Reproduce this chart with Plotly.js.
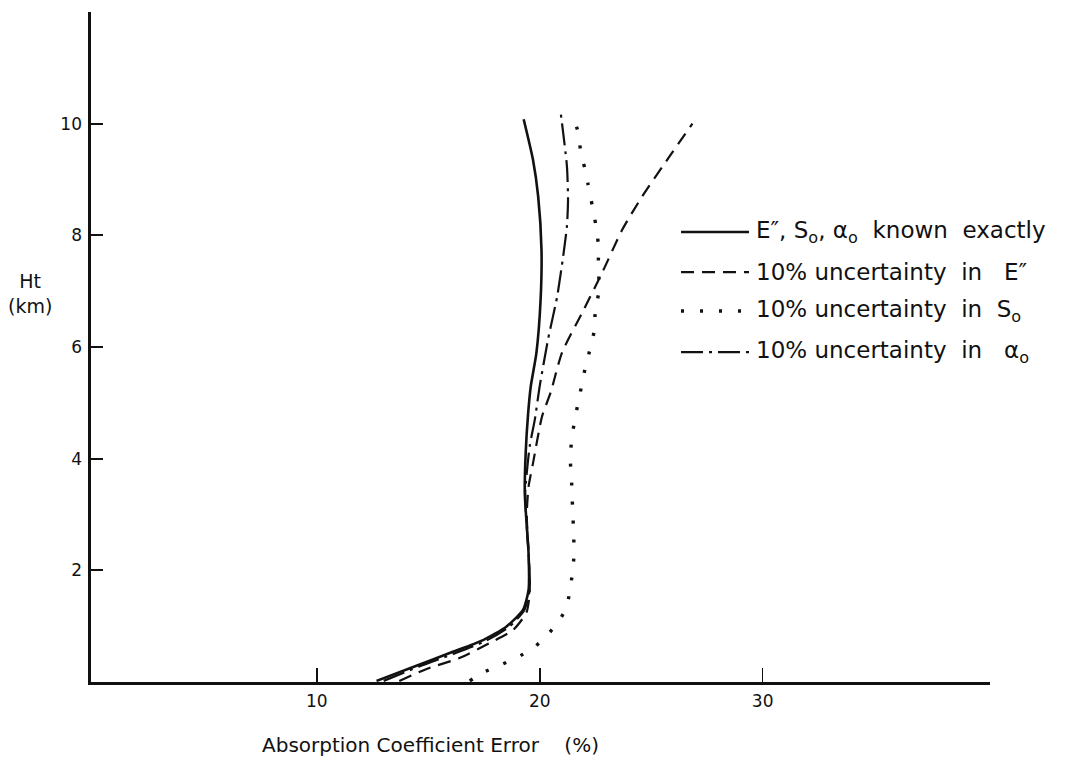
<!DOCTYPE html>
<html>
<head>
<meta charset="utf-8">
<script src="https://cdn.plot.ly/plotly-3.0.1.min.js"></script>
<style>
  html, body { margin: 0; padding: 0; background: #fff; }
  #chart { width: 1075px; height: 761px; }
</style>
</head>
<body>
<div id="chart"></div>
<script>
// Absorption coefficient error (%) against height (km) for four error cases.
const seriesNames = [
  'E″, S<sub>o</sub>, α<sub>o</sub>&nbsp; known&nbsp; exactly',
  '10% uncertainty&nbsp; in&nbsp;&nbsp; E″',
  '10% uncertainty&nbsp; in&nbsp; S<sub>o</sub>',
  '10% uncertainty&nbsp; in&nbsp;&nbsp; α<sub>o</sub>'
];

// Case 1: all parameters known exactly
const exactErr = [12.68, 14.47, 15.96, 17.46, 18.5, 19.25, 19.5, 19.5, 19.4, 19.33, 19.37, 19.48, 19.6, 19.85, 20.04, 20.08, 19.93, 19.7, 19.28];
const exactHt  = [0.02, 0.29, 0.52, 0.75, 0.99, 1.29, 1.65, 2.3, 2.9, 3.39, 4.1, 4.81, 5.3, 5.89, 6.85, 7.74, 8.7, 9.35, 10.08];

// Case 2: 10% uncertainty in E''
const eErr = [13.7, 14.9, 16.4, 17.76, 18.8, 19.4, 19.55, 19.5, 19.42, 19.5, 19.7, 20.1, 20.5, 21.0, 21.9, 22.8, 23.7, 24.6, 25.8, 26.85];
const eHt  = [0.02, 0.23, 0.43, 0.7, 0.93, 1.24, 1.6, 2.3, 3.0, 3.5, 3.92, 4.75, 5.2, 5.9, 6.61, 7.33, 8.1, 8.7, 9.4, 10.0];

// Case 3: 10% uncertainty in S0
const sErr = [16.86, 17.46, 18.33, 19.13, 19.78, 20.4, 20.83, 21.17, 21.35, 21.46, 21.54, 21.52, 21.49, 21.46, 21.42, 21.37, 21.42, 21.57, 21.72, 21.88, 22.05, 22.29, 22.44, 22.5, 22.66, 22.63, 22.63, 22.51, 22.36, 22.17, 22.02, 21.84, 21.72, 21.5];
const sHt  = [0.02, 0.17, 0.32, 0.47, 0.63, 0.87, 1.07, 1.31, 1.61, 1.94, 2.28, 2.65, 2.99, 3.26, 3.68, 3.99, 4.28, 4.7, 4.99, 5.31, 5.64, 6.01, 6.28, 6.68, 7.0, 7.47, 7.83, 8.2, 8.52, 8.91, 9.2, 9.5, 9.85, 10.13];

// Case 4: 10% uncertainty in alpha0
const aErr = [13.0, 14.6, 16.1, 17.6, 18.6, 19.3, 19.55, 19.5, 19.4, 19.35, 19.55, 19.78, 20.0, 20.37, 20.78, 21.05, 21.22, 21.27, 21.22, 20.94];
const aHt  = [0.02, 0.28, 0.5, 0.74, 0.98, 1.28, 1.65, 2.3, 2.9, 3.4, 4.22, 4.7, 5.3, 6.13, 6.9, 7.62, 8.16, 8.64, 9.24, 10.2];

const xTicks = [10, 20, 30];
const yTicks = [2, 4, 6, 8, 10];

const ink = '#111';
const styles = [
  { width: 2.6, dash: 'solid' },
  { width: 2.2, dash: '13px,8px' },
  { width: 3.4, dash: '3px,16px' },
  { width: 2.2, dash: '22px,6px,3px,6px' }
];

const xs = [exactErr, eErr, sErr, aErr];
const ys = [exactHt, eHt, sHt, aHt];

const traces = xs.map((x, i) => ({
  x: x,
  y: ys[i],
  type: 'scatter',
  mode: 'lines',
  name: seriesNames[i],
  line: { color: ink, width: styles[i].width, dash: styles[i].dash, shape: 'spline', smoothing: 0.6 },
  showlegend: false,
  hoverinfo: 'skip'
}));

// Hand-lettered style key on the right of the plot
const keyRowsY = [0.6716, 0.6119, 0.5537, 0.4925];
const keyX0 = 0.6563, keyX1 = 0.7319, keyTextX = 0.7375;

const shapes = keyRowsY.map((yy, i) => ({
  type: 'line', xref: 'paper', yref: 'paper',
  x0: keyX0, x1: keyX1, y0: yy, y1: yy,
  line: { color: ink, width: styles[i].width, dash: styles[i].dash }
}));

const font = 'DejaVu Sans, Liberation Sans, sans-serif';

const annotations = keyRowsY.map((yy, i) => ({
  xref: 'paper', yref: 'paper', x: keyTextX, y: yy,
  xanchor: 'left', yanchor: 'middle', showarrow: false,
  text: seriesNames[i],
  font: { family: font, size: 23, color: ink }
}));

annotations.push({
  xref: 'paper', yref: 'paper', x: 0.378, y: -0.094,
  xanchor: 'center', yanchor: 'middle', showarrow: false,
  text: 'Absorption Coefficient Error&nbsp;&nbsp;&nbsp;&nbsp;(%)',
  font: { family: font, size: 20, color: ink }
});
annotations.push({
  xref: 'paper', yref: 'paper', x: -0.068, y: 0.58,
  xanchor: 'center', yanchor: 'middle', showarrow: false,
  text: 'Ht<br>(km)',
  font: { family: font, size: 19, color: ink }
});

const layout = {
  width: 1075,
  height: 761,
  margin: { l: 91, r: 85, t: 12, b: 79 },
  paper_bgcolor: '#fff',
  plot_bgcolor: '#fff',
  font: { family: font, color: ink },
  showlegend: false,
  xaxis: {
    range: [-0.13, 40.2],
    tickvals: xTicks,
    ticktext: xTicks.map(String),
    ticks: 'inside', ticklen: 14, tickwidth: 1.6, tickcolor: ink,
    showline: true, linecolor: ink, linewidth: 2.6,
    showgrid: false, zeroline: false,
    tickfont: { family: font, size: 17, color: ink },
    ticklabelstandoff: 2,
    fixedrange: true
  },
  yaxis: {
    range: [0, 12],
    tickvals: yTicks,
    ticktext: yTicks.map(String),
    ticks: 'inside', ticklen: 12, tickwidth: 2, tickcolor: ink,
    showline: true, linecolor: ink, linewidth: 2.6,
    showgrid: false, zeroline: false,
    tickfont: { family: font, size: 17, color: ink },
    ticklabelstandoff: 3,
    fixedrange: true
  },
  shapes: shapes,
  annotations: annotations
};

Plotly.newPlot('chart', traces, layout, { staticPlot: true, displayModeBar: false });
</script>
</body>
</html>
